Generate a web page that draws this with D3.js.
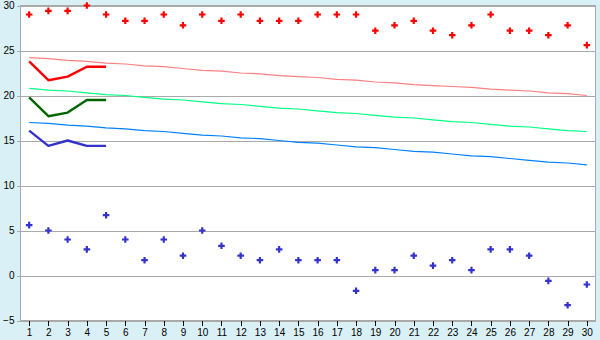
<!DOCTYPE html>
<meta charset="utf-8">
<style>
body { margin: 0; background: #d9f0f6; }
svg { display: block; font-family: "DejaVu Sans", Verdana, sans-serif; font-size: 12px; }
.grid line { stroke: #aaa; stroke-width: 1; shape-rendering: crispEdges; }
.axis path { display: none; }
.axis line { stroke: #000; shape-rendering: crispEdges; }
.axis text { fill: #000; }
.frame { fill: #fff; stroke: #aaa; stroke-width: 1; shape-rendering: crispEdges; }
</style>
<svg width="600" height="340"></svg>
<script src="https://cdn.jsdelivr.net/npm/d3@7"></script>
<script>

var days = d3.range(1, 31);

// daily extremes
var maxTemp = [29, 29.4, 29.4, 30, 29, 28.3, 28.3, 29, 27.8, 29,
               28.3, 29, 28.3, 28.3, 28.3, 29, 29, 29, 27.2, 27.8,
               28.3, 27.2, 26.7, 27.8, 29, 27.2, 27.2, 26.7, 27.8, 25.6];
var minTemp = [5.6, 5.0, 4.0, 2.9, 6.7, 4.0, 1.7, 4.0, 2.2, 5.0,
               3.3, 2.2, 1.7, 2.9, 1.7, 1.7, 1.7, -1.7, 0.6, 0.6,
               2.2, 1.1, 1.7, 0.6, 2.9, 2.9, 2.2, -0.6, -3.3, -1.0];

// first days, running values
var hiLine = [23.8, 21.7, 22.1, 23.2, 23.2];
var meanLine = [19.8, 17.7, 18.1, 19.5, 19.5];
var loLine = [16.1, 14.4, 15.0, 14.4, 14.4];

// normals
var hiNormal = [24.2, 24.1, 23.9, 23.8, 23.6, 23.5, 23.3, 23.2, 23.0, 22.8,
                22.7, 22.5, 22.4, 22.2, 22.1, 22.0, 21.8, 21.7, 21.5, 21.4,
                21.2, 21.1, 21.0, 20.9, 20.7, 20.6, 20.5, 20.3, 20.2, 20.0];
var meanNormal = [20.8, 20.6, 20.5, 20.3, 20.1, 20.0, 19.8, 19.6, 19.5, 19.3,
                  19.1, 19.0, 18.8, 18.6, 18.5, 18.3, 18.1, 18.0, 17.8, 17.6,
                  17.5, 17.3, 17.1, 17.0, 16.8, 16.6, 16.5, 16.3, 16.1, 16.0];
var loNormal = [17.0, 16.9, 16.7, 16.6, 16.4, 16.3, 16.1, 16.0, 15.8, 15.6,
                15.5, 15.3, 15.2, 15.0, 14.8, 14.7, 14.5, 14.3, 14.2, 14.0,
                13.8, 13.7, 13.5, 13.3, 13.2, 13.0, 12.8, 12.6, 12.5, 12.3];

var yTicks = [-5, 0, 5, 10, 15, 20, 25, 30];

var svg = d3.select("svg"),
    plotLeft = 20.5, plotRight = 595.5, plotTop = 5.5, plotBottom = 320.5;

var x = d3.scalePoint()
    .domain(days)
    .range([plotLeft, plotRight])
    .padding(0.45);

var y = d3.scaleLinear()
    .domain([-5, 30])
    .range([plotBottom, plotTop]);

svg.append("rect")
    .attr("class", "frame")
    .attr("x", plotLeft).attr("y", plotTop)
    .attr("width", plotRight - plotLeft).attr("height", plotBottom - plotTop);

svg.append("g")
    .attr("class", "grid")
  .selectAll("line")
  .data(yTicks)
  .enter().append("line")
    .attr("x1", plotLeft - 4).attr("x2", plotRight)
    .attr("y1", d => Math.round(y(d)) + 0.5)
    .attr("y2", d => Math.round(y(d)) + 0.5);

svg.append("g")
    .attr("class", "axis")
    .attr("transform", "translate(" + plotLeft + ",0)")
    .call(d3.axisLeft(y).tickValues(yTicks).tickSize(0).tickPadding(6));

svg.append("g")
    .attr("class", "axis")
    .attr("transform", "translate(0," + plotBottom + ")")
    .call(d3.axisBottom(x).tickSize(5).tickPadding(3));

var line = d3.line()
    .x((d, i) => x(days[i]))
    .y(d => y(d));

var normals = [[hiNormal, "#ff8080"], [meanNormal, "#00ff80"], [loNormal, "#0080ff"]];
normals.forEach(function(n) {
  svg.append("path")
      .attr("d", line(n[0]))
      .attr("fill", "none")
      .attr("stroke", n[1])
      .attr("stroke-width", 1.2);
});

var running = [[hiLine, "#ff0000"], [meanLine, "#006600"], [loLine, "#3333cc"]];
running.forEach(function(r) {
  svg.append("path")
      .attr("d", line(r[0]))
      .attr("fill", "none")
      .attr("stroke", r[1])
      .attr("stroke-width", 2.4)
      .attr("stroke-linejoin", "round");
});

var cross = d3.symbol().type(d3.symbolCross).size(24);

[[maxTemp, "#ff0000"], [minTemp, "#3333cc"]].forEach(function(s) {
  svg.append("g")
    .selectAll("path")
    .data(s[0])
    .enter().append("path")
      .attr("d", cross)
      .attr("transform", (d, i) => "translate(" + x(days[i]) + "," + y(d) + ")")
      .attr("fill", s[1]);
});

</script>
